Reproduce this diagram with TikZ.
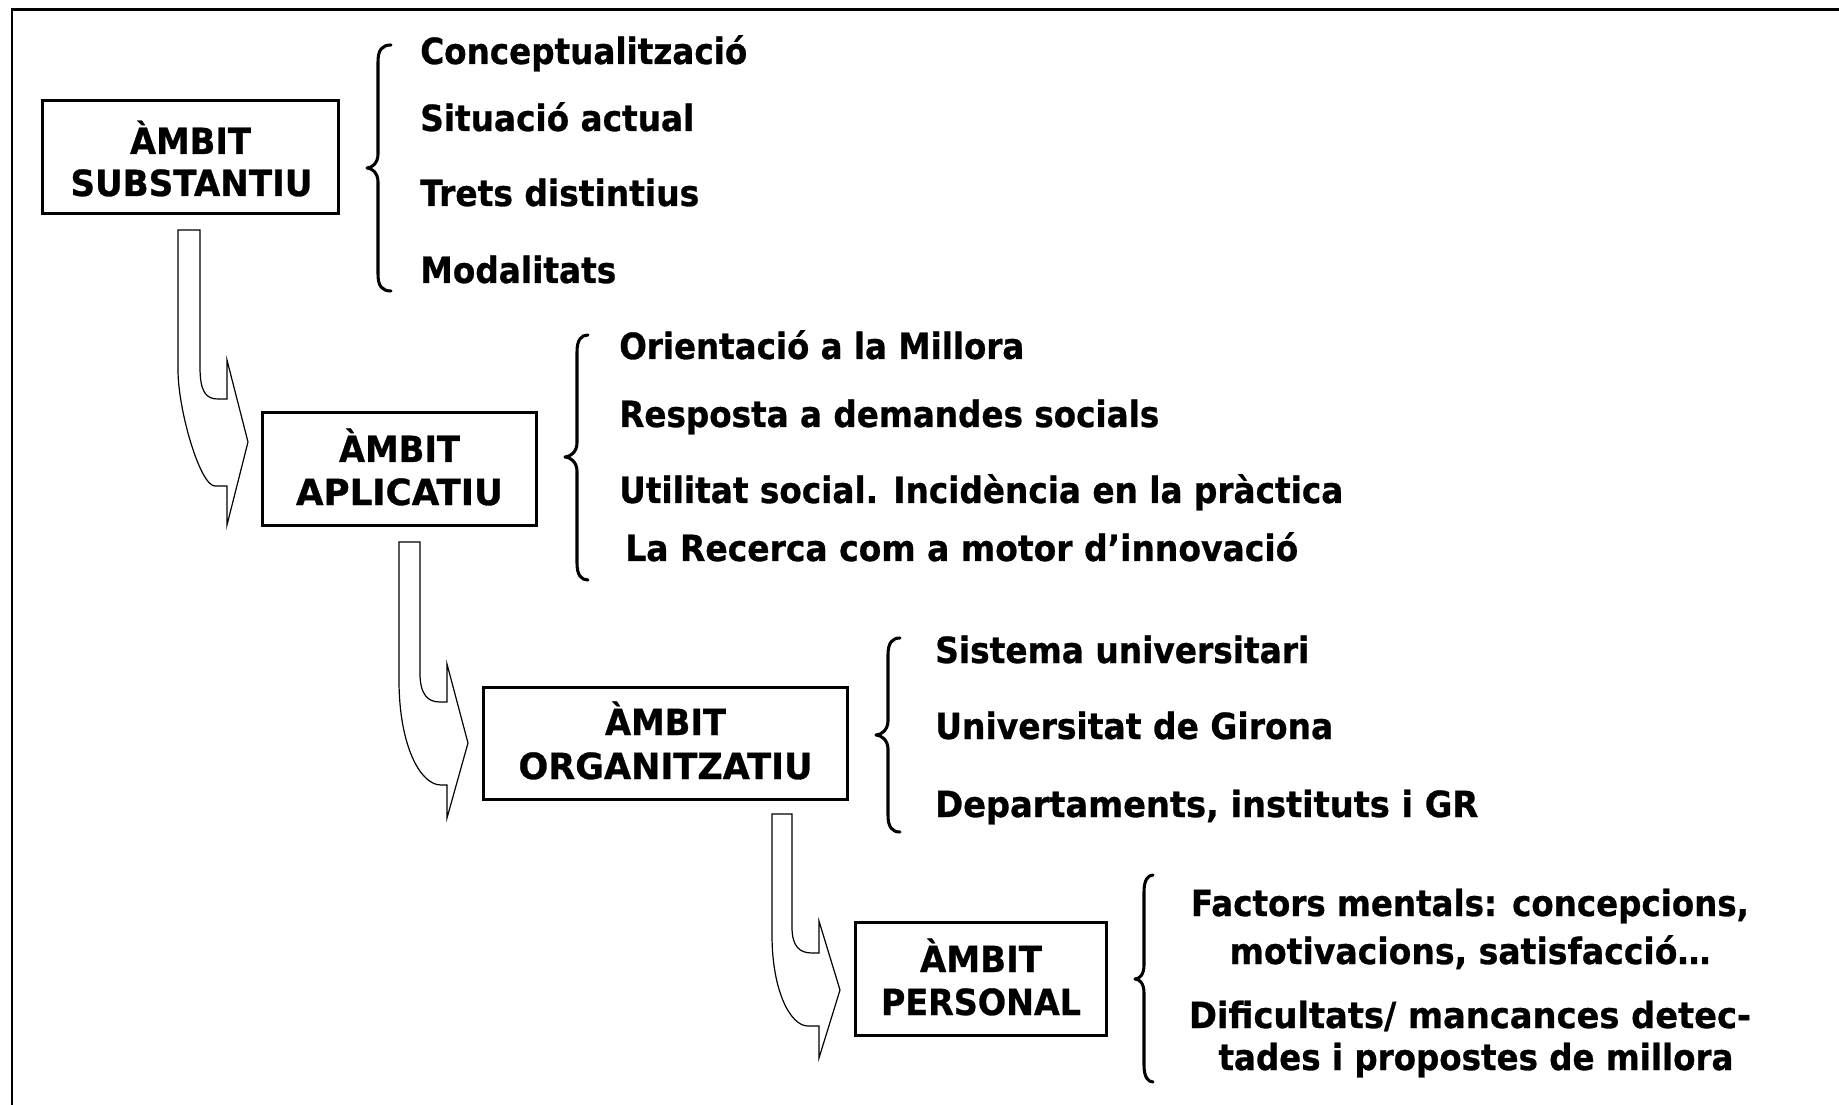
\documentclass[tikz,border=0pt]{standalone}
\usepackage{fontspec}
\setmainfont{DejaVu Sans}[BoldFeatures={FakeBold=0.8}]
\usepackage{graphicx}
\newdimen\pxu \pxu=0.75pt
\newcommand\fitx[2]{\resizebox{#1\pxu}{\height}{#2}}
\newcommand\cbrace[6]{%
 \draw[brc] (#1,#4) .. controls (#2+4,#4) and (#2,#4+5) .. (#2,#4+17) -- (#2,#5-14)
   .. controls (#2,#5-5) and (#3+5,#5) .. (#3,#5)
   .. controls (#3+5,#5) and (#2,#5+5) .. (#2,#5+14) -- (#2,#6-17)
   .. controls (#2,#6-5) and (#2+4,#6) .. (#1,#6);}
\begin{document}
\begin{tikzpicture}[x=0.75pt,y=-0.75pt,
  txt/.style={inner sep=0pt, font=\fontsize{27}{32}\selectfont\bfseries},
  lt/.style={txt, anchor=base west},
  ct/.style={txt, anchor=base},
  box/.style={draw, line width=2.25pt, inner sep=0pt},
  brc/.style={line width=2.3pt, line cap=round, line join=round},
  barrow/.style={draw, fill=white, line width=0.9pt, line join=miter}]
\useasboundingbox (0,0) rectangle (1839,1105);
\clip (0,0) rectangle (1839,1105);
\fill[white] (0,0) rectangle (1839,1105);
% outer frame
\draw[line width=1.6pt] (12,9.5) rectangle (1950,1250);

% boxes
\node[box, minimum width=222pt, minimum height=84.75pt] (b1) at (190.5,157) {};
\node[box, minimum width=205.5pt, minimum height=84.75pt] (b2) at (399.5,469) {};
\node[box, minimum width=273pt, minimum height=84pt] (b3) at (665.5,743.5) {};
\node[box, minimum width=188.25pt, minimum height=84.75pt] (b4) at (981,979) {};

\node[ct] (b1a) at (190.5,154) {\fitx{121}{ÀMBIT}};
\node[ct] (b1b) at (191.5,196) {\fitx{242}{SUBSTANTIU}};
\node[ct] (b2a) at (399.5,462) {\fitx{121}{ÀMBIT}};
\node[ct] (b2b) at (399.5,505) {\fitx{207}{APLICATIU}};
\node[ct] (b3a) at (665.5,735) {\fitx{121}{ÀMBIT}};
\node[ct] (b3b) at (665.5,779) {\fitx{294}{ORGANITZATIU}};
\node[ct] (b4a) at (981,972) {\fitx{122}{ÀMBIT}};
\node[ct] (b4b) at (981,1015) {\fitx{200}{PERSONAL}};

% curved block arrows
\path[barrow] (178,230) -- (200,230) -- (200,367) .. controls (200,392) and (206,399) .. (218,399)
  -- (227,399) -- (227,360) -- (248,442) -- (227,525) -- (227,486) -- (215,486)
  .. controls (200,486) and (178,410) .. (178,370) -- cycle;
\path[barrow] (399,542) -- (420,542) -- (420,673) .. controls (420,695) and (428,702) .. (440,702)
  -- (447,702) -- (447,664) -- (468,743) -- (447,818) -- (447,785) -- (441,785)
  .. controls (420,785) and (399,745) .. (399,680) -- cycle;
\path[barrow] (772,814) -- (792,814) -- (792,927) .. controls (792,947) and (800,953) .. (812,953)
  -- (819,953) -- (819,921) -- (840,990) -- (819,1058) -- (819,1026) -- (808,1026)
  .. controls (790,1026) and (772,990) .. (772,935) -- cycle;

% braces
\cbrace{391}{378}{367}{45}{168}{291}
\cbrace{588}{577}{565}{335}{457}{580}
\cbrace{900}{888}{876}{638}{735}{832}
\cbrace{1153}{1144}{1135}{875}{979}{1082}

% group 1
\node[lt] (g1a) at (420,64) {\fitx{327}{Conceptualització}};
\node[lt] (g1b) at (420,131) {\fitx{274}{Situació actual}};
\node[lt] (g1c) at (420,206) {\fitx{279}{Trets distintius}};
\node[lt] (g1d) at (420,283) {\fitx{196}{Modalitats}};
% group 2
\node[lt] (g2a) at (619,359) {\fitx{405}{Orientació a la Millora}};
\node[lt] (g2b) at (619,427) {\fitx{540}{Resposta a demandes socials}};
\node[lt] (g2c) at (619,503) {\fitx{724}{Utilitat social. Incidència en la pràctica}};
\node[lt] (g2d) at (625,561) {\fitx{673}{La Recerca com a motor d’innovació}};
% group 3
\node[lt] (g3a) at (935,663) {\fitx{374}{Sistema universitari}};
\node[lt] (g3b) at (935,739) {\fitx{398}{Universitat de Girona}};
\node[lt] (g3c) at (935,817) {\fitx{543}{Departaments, instituts i GR}};
% group 4
\node[ct] (g4a) at (1470,916) {\fitx{558}{Factors mentals: concepcions,}};
\node[ct] (g4b) at (1470,964) {\fitx{481}{motivacions, satisfacció…}};
\node[ct] (g4c) at (1470,1028) {\fitx{562}{Dificultats/ mancances detec-}};
\node[ct] (g4d) at (1476,1070) {\fitx{515}{tades i propostes de millora}};
\end{tikzpicture}
\end{document}
